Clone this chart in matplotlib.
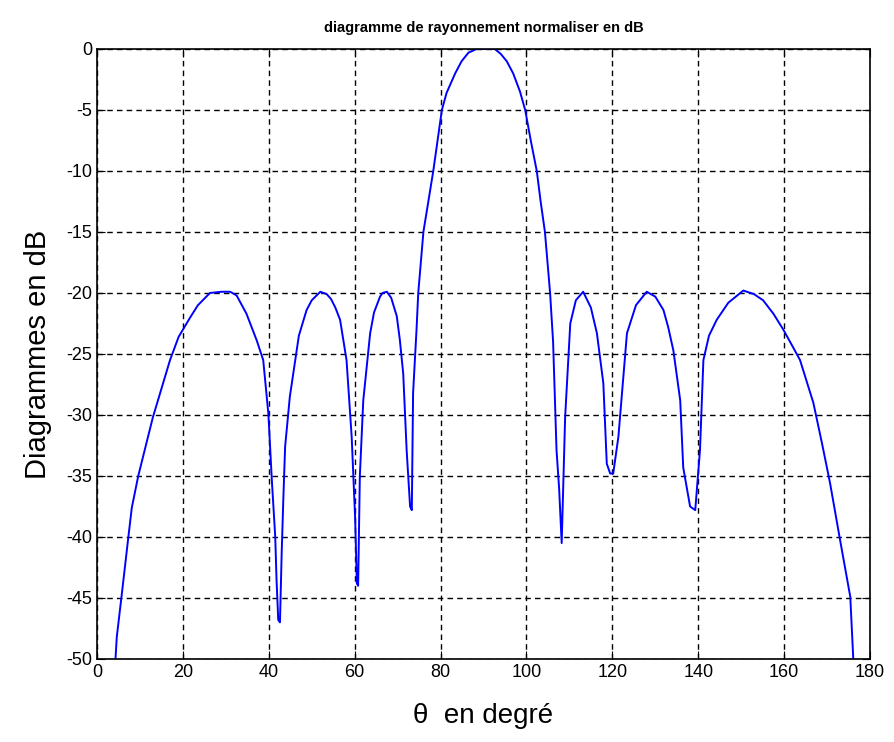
import matplotlib.pyplot as plt

# diagramme de rayonnement
theta = [4.3, 4.6, 5.7, 7.3, 8.1, 9.6, 13, 17, 19, 21.7, 23.5, 26.3, 29, 31, 32.5, 34.8,
         37.2, 38.7, 39.9, 40.7, 41.5, 41.8, 42.2, 42.6, 43, 43.4, 43.8, 44.9, 47, 48.8,
         50, 52, 53.5, 54.5, 55.5, 56.6, 58.1, 59.3, 60.1, 60.5, 60.8, 61.2, 62, 63.6,
         64.5, 65.9, 66.5, 67.5, 68.5, 69.8, 70.5, 71.3, 72.1, 72.9, 73.3, 73.6, 74.4, 74.8,
         76, 78.3, 80.3, 81.4, 83.4, 84.9, 86.5, 88.4, 90.5, 92.6, 94, 95.4, 96.9, 98.5,
         99.7, 101, 102.4, 103.3, 104.3, 105.5, 106.2, 107, 107.6, 108.2, 109, 110.2, 111.5,
         113.2, 115, 116.4, 117.9, 118.7, 119.5, 120.2, 121.4, 123.4, 125.5, 128, 130,
         131.9, 133, 134.2, 135.8, 136.5, 138.1, 139.3, 140.4, 141.2, 142.5, 144.3, 147,
         150.5, 153, 155.1, 157.5, 159.8, 162, 163.7, 166.8, 168.8, 170.7, 173, 175.4, 176.1]
gain_db = [-50, -48.2, -44.9, -40, -37.6, -35, -30.2, -25.5, -23.6, -22, -21, -20, -19.9,
           -19.9, -20.2, -21.7, -23.9, -25.5, -29.9, -35.3, -40, -43.5, -46.8, -47, -41.3,
           -36.7, -32.6, -28.5, -23.5, -21.4, -20.6, -19.9, -20.1, -20.5, -21.2, -22.2, -25.5,
           -31.8, -38.4, -43.8, -44, -35, -28.8, -23.3, -21.6, -20.3, -20, -19.9, -20.4,
           -21.9, -23.8, -26.6, -32.9, -37.5, -37.8, -28.2, -23, -20, -15, -10, -5, -3.6, -2,
           -1, -0.3, 0, 0, 0, -0.4, -1, -2, -3.5, -5, -7.5, -10, -12.5, -15, -20, -24,
           -32.9, -36, -40.5, -30.2, -22.5, -20.6, -19.9, -21.2, -23.3, -27.4, -34, -34.8,
           -34.8, -31.8, -23.3, -21, -19.9, -20.3, -21.4, -22.8, -24.7, -28.8, -34.3, -37.5,
           -37.8, -32.9, -25.5, -23.5, -22.2, -20.8, -19.8, -20.1, -20.6, -21.7, -23, -24.4,
           -25.5, -29, -32.3, -35.6, -40.2, -44.9, -50]

xticks = list(range(0, 181, 20))
yticks = list(range(-50, 1, 5))

plt.rcParams['font.family'] = ['Liberation Sans', 'DejaVu Sans']
plt.rcParams['axes.unicode_minus'] = False

fig = plt.figure(figsize=(8.95, 7.42), dpi=100)
ax = fig.add_axes([0.1084, 0.1119, 0.8637, 0.8221])

ax.plot(theta, gain_db, color='#0000ff', linewidth=1.4)

ax.set_xlim(0, 180)
ax.set_ylim(-50, 0)
ax.set_xticks(xticks)
ax.set_yticks(yticks)
ax.grid(True, color='black', linestyle=(0, (4, 3)), linewidth=1.0)
ax.tick_params(direction='in', top=True, right=True, labelsize=13, length=6)
for s in ax.spines.values():
    s.set_linewidth(1.2)

ax.set_title("diagramme de rayonnement normaliser en dB", fontsize=10.5,
             fontweight='bold', pad=12)
ax.set_ylabel("Diagrammes en dB", fontsize=21, labelpad=10)
ax.set_xlabel("θ  en degré", fontsize=20, labelpad=16)

fig.savefig("out.png", dpi=100)
